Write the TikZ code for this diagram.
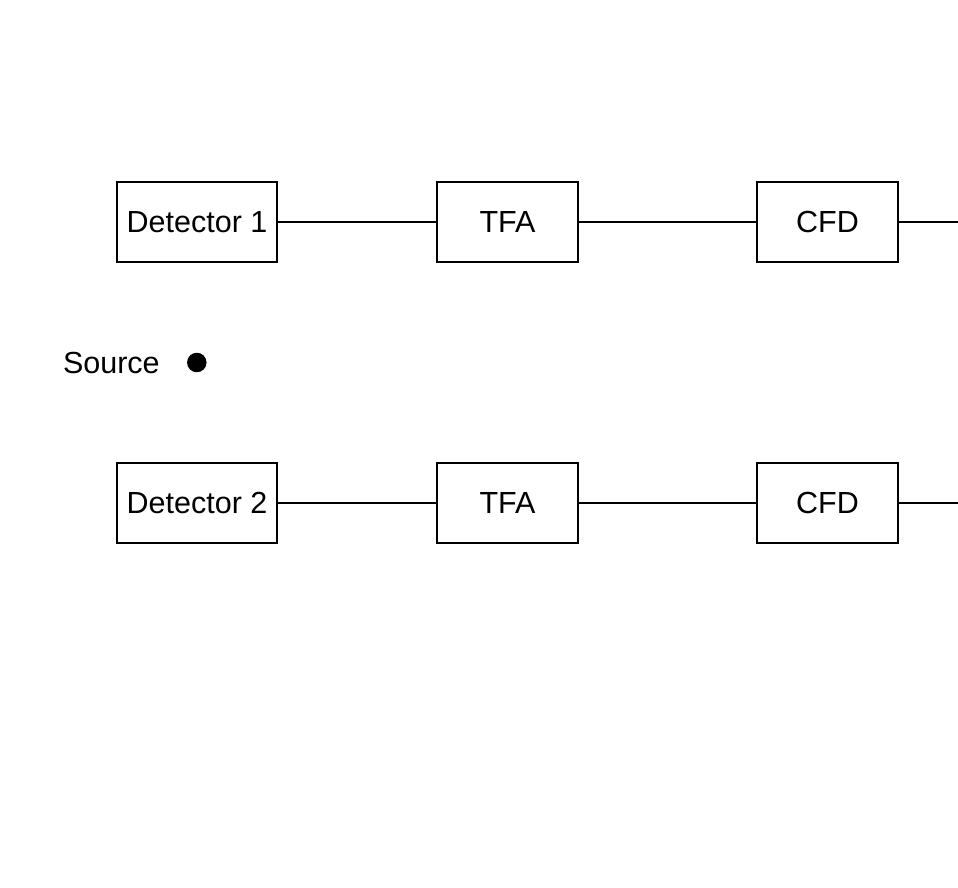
\documentclass[tikz,border=0pt]{standalone}
\usepackage{fontspec}
\setmainfont{Liberation Sans}
\begin{document}
\begin{tikzpicture}[x=1pt,y=-1pt,
  blk/.style={draw=black,line width=1.6pt,minimum height=80pt,inner sep=0pt,font=\fontsize{30.5}{36}\selectfont},
  wire/.style={draw=black,line width=1.6pt},
  lbl/.style={inner sep=0pt,font=\fontsize{30.5}{36}\selectfont}]
\useasboundingbox (0,0) rectangle (958,888);
% row 1
\node[blk,minimum width=160pt] (d1) at (197,222) {Detector 1};
\node[blk,minimum width=141pt] (t1) at (507.5,222) {TFA};
\node[blk,minimum width=141pt] (c1) at (827.5,222) {CFD};
\coordinate (e1) at (958,222);
% row 2
\node[blk,minimum width=160pt] (d2) at (197,503) {Detector 2};
\node[blk,minimum width=141pt] (t2) at (507.5,503) {TFA};
\node[blk,minimum width=141pt] (c2) at (827.5,503) {CFD};
\coordinate (e2) at (958,503);
% source
\node[lbl] (src) at (111.4,362.5) {Source};
\node[circle,fill=black,inner sep=0pt,minimum size=19.5pt] (dot) at (196.8,362.5) {};
% wires
\draw[wire] (d1) -- (t1);
\draw[wire] (t1) -- (c1);
\draw[wire] (c1) -- (e1);
\draw[wire] (d2) -- (t2);
\draw[wire] (t2) -- (c2);
\draw[wire] (c2) -- (e2);
\end{tikzpicture}
\end{document}
